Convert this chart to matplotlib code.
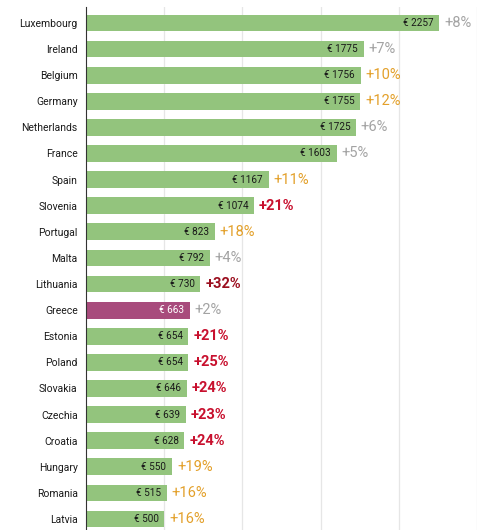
import matplotlib
matplotlib.use("Agg")
import matplotlib.pyplot as plt

countries = ["Luxembourg", "Ireland", "Belgium", "Germany", "Netherlands", "France",
             "Spain", "Slovenia", "Portugal", "Malta", "Lithuania", "Greece", "Estonia",
             "Poland", "Slovakia", "Czechia", "Croatia", "Hungary", "Romania", "Latvia"]
wages = [2257, 1775, 1756, 1755, 1725, 1603, 1167, 1074, 823, 792, 730, 663, 654,
         654, 646, 639, 628, 550, 515, 500]
changes = [8, 7, 10, 12, 6, 5, 11, 21, 18, 4, 32, 2, 21, 25, 24, 23, 24, 19, 16, 16]
highlight = "Greece"

plt.rcParams['font.family'] = ['Roboto', 'DejaVu Sans']

fig = plt.figure(figsize=(5.02, 5.30), dpi=100)
ax = fig.add_axes([86/502, 0, (477-86)/502, (530-7)/530])

green = "#93c47d"
purple = "#a84b7c"

def pct_style(c):
    if c < 10:
        return "#a3a3a3", "normal"
    if c < 20:
        return "#e3a02a", "normal"
    if c < 30:
        return "#c8102e", "semibold"
    return "#9b0f1f", "semibold"

ypos = list(range(len(countries)))
colors = [purple if c == highlight else green for c in countries]
ax.barh(ypos, wages, height=0.64, color=colors, zorder=2)

for y, c, w, ch in zip(ypos, countries, wages, changes):
    tc = "white" if c == highlight else "#1a1a1a"
    ax.text(w - 36, y, f"€ {w}", ha="right", va="center", fontsize=7.2, color=tc, zorder=3)
    col, fw = pct_style(ch)
    ax.text(w + 32, y, f"+{ch}%", ha="left", va="center", fontsize=10.5, color=col,
            fontweight=fw, zorder=3)

ax.set_xlim(0, 2500)
ax.set_ylim(len(countries) - 1 + 0.42, -0.61)
ax.set_yticks(ypos)
ax.set_yticklabels(countries, fontsize=7.5, color="#1a1a1a")
ax.tick_params(axis="y", length=0, pad=6)
ax.set_xticks([500, 1000, 1500, 2000, 2500])
ax.tick_params(axis="x", length=0, labelbottom=False)
ax.grid(axis="x", color="#e6e6e6", linewidth=0.9, zorder=0)
for s in ["top", "right", "bottom"]:
    ax.spines[s].set_visible(False)
ax.spines["left"].set_color("#333333")
ax.spines["left"].set_linewidth(0.8)
ax.spines["left"].set_zorder(4)

fig.savefig("out.png", dpi=100)
